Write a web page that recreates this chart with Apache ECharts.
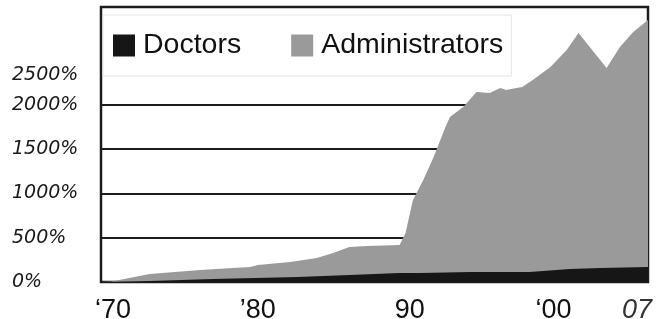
<!DOCTYPE html>
<html>
<head>
<meta charset="utf-8">
<script src="https://cdn.jsdelivr.net/npm/echarts@6/dist/echarts.min.js"></script>
<style>
  html, body { margin: 0; padding: 0; background: #fff; }
  #chart { width: 666px; height: 319px; }
</style>
</head>
<body>
<div id="chart"></div>
<script>
// growth since 1970, in percent
const adminYears = [1970, 1970.7, 1973.3, 1976.7, 1978.9, 1980.1, 1980.6, 1982.8, 1984.6, 1985.7, 1986.8, 1988.0, 1990.2,
  1990.6, 1991.1, 1991.8, 1992.5, 1993.3, 1993.6, 1994.5, 1995.4, 1996.3, 1997.0, 1997.4, 1998.1, 1998.5, 1999.2,
  2000.4, 2001.5, 2002.3, 2004.2, 2005.1, 2006.0, 2007]
const adminValues = [0, 6, 90, 135, 158, 169, 192, 225, 270, 327, 394, 406, 417,
  552, 924, 1150, 1409, 1747, 1860, 1972, 2141, 2130, 2186, 2164, 2186, 2198, 2277,
  2423, 2615, 2806, 2412, 2648, 2818, 2953]

const doctorYears = [1970, 1973.3, 1977.6, 1983.3, 1986.8, 1990.2, 1991.6, 1995.0, 1999.0, 2001.7, 2003.8, 2007]
const doctorValues = [0, 11, 34, 56, 79, 101, 101, 113, 113, 147, 158, 169]

const gridValues = [500, 1000, 1500, 2000]
const xLabels = { 1970: '‘70', 1980: '’80', 1990: '90', 2000: '‘00', 2007: '07' }

const pairs = (xs, ys) => xs.map((x, i) => [x, ys[i]])

const chart = echarts.init(document.getElementById('chart'))

chart.setOption({
  animation: false,
  grid: {
    left: 101,
    right: 18,
    top: 7,
    bottom: 37,
    outerBoundsMode: 'none',
    show: true,
    borderColor: '#1c1c1c',
    borderWidth: 2.5,
    backgroundColor: '#fff'
  },
  legend: {
    data: ['Doctors', 'Administrators'],
    left: 103,
    top: 15,
    padding: [16, 8, 16, 10],
    backgroundColor: '#fff',
    borderColor: '#e4e4e4',
    borderWidth: 1,
    icon: 'rect',
    itemWidth: 22,
    itemHeight: 22,
    itemGap: 50,
    textStyle: {
      fontFamily: 'Liberation Sans',
      fontSize: 28.5,
      color: '#111',
      padding: [0, 0, 0, 3]
    }
  },
  xAxis: {
    type: 'value',
    min: 1970,
    max: 2007,
    interval: 10,
    axisLine: { show: false },
    axisTick: { show: false },
    splitLine: { show: false },
    axisLabel: {
      margin: 15,
      fontFamily: 'Liberation Sans',
      fontSize: 27,
      color: '#111',
      formatter: v => {
        const key = { 1970: 'a', 1980: 'b', 1990: 'c', 2000: 'd', 2007: 'e' }[v]
        return key ? '{' + key + '|' + xLabels[v] + '}' : ''
      },
      rich: {
        a: { fontSize: 27, padding: [0, 0, 0, 24] },
        b: { fontSize: 27, padding: [0, 0, 0, 18] },
        c: { fontSize: 27, padding: [0, 0, 0, 26] },
        d: { fontSize: 27, padding: [0, 0, 0, 18] },
        e: { fontSize: 27, fontStyle: 'italic', color: '#333', padding: [0, 22, 0, 0] }
      }
    }
  },
  yAxis: {
    type: 'value',
    min: 0,
    max: 3100,
    interval: 500,
    axisLine: { show: false },
    axisTick: { show: false },
    splitLine: { show: false },
    axisLabel: {
      align: 'left',
      margin: 89,
      fontFamily: 'DejaVu Sans',
      fontStyle: 'italic',
      fontSize: 19,
      color: '#1a1a1a',
      formatter: v => v >= 3000 ? '' : (v === 2500 ? '{low|2500%}' : v + '%'),
      rich: {
        low: { fontFamily: 'DejaVu Sans', fontStyle: 'italic', fontSize: 19, padding: [30, 0, 0, 0] }
      }
    }
  },
  series: [
    {
      name: 'Administrators',
      type: 'line',
      z: 2,
      data: pairs(adminYears, adminValues),
      showSymbol: false,
      lineStyle: { width: 0 },
      itemStyle: { color: '#9a9a9a' },
      areaStyle: { color: '#9a9a9a', opacity: 1 },
      markLine: {
        silent: true,
        z: 1,
        symbol: 'none',
        label: { show: false },
        lineStyle: { color: '#1c1c1c', width: 2, type: 'solid' },
        data: gridValues.map(v => ({ yAxis: v }))
      }
    },
    {
      name: 'Doctors',
      type: 'line',
      z: 3,
      data: pairs(doctorYears, doctorValues),
      showSymbol: false,
      lineStyle: { width: 0 },
      itemStyle: { color: '#161616' },
      areaStyle: { color: '#161616', opacity: 1 }
    }
  ]
})
</script>
</body>
</html>
